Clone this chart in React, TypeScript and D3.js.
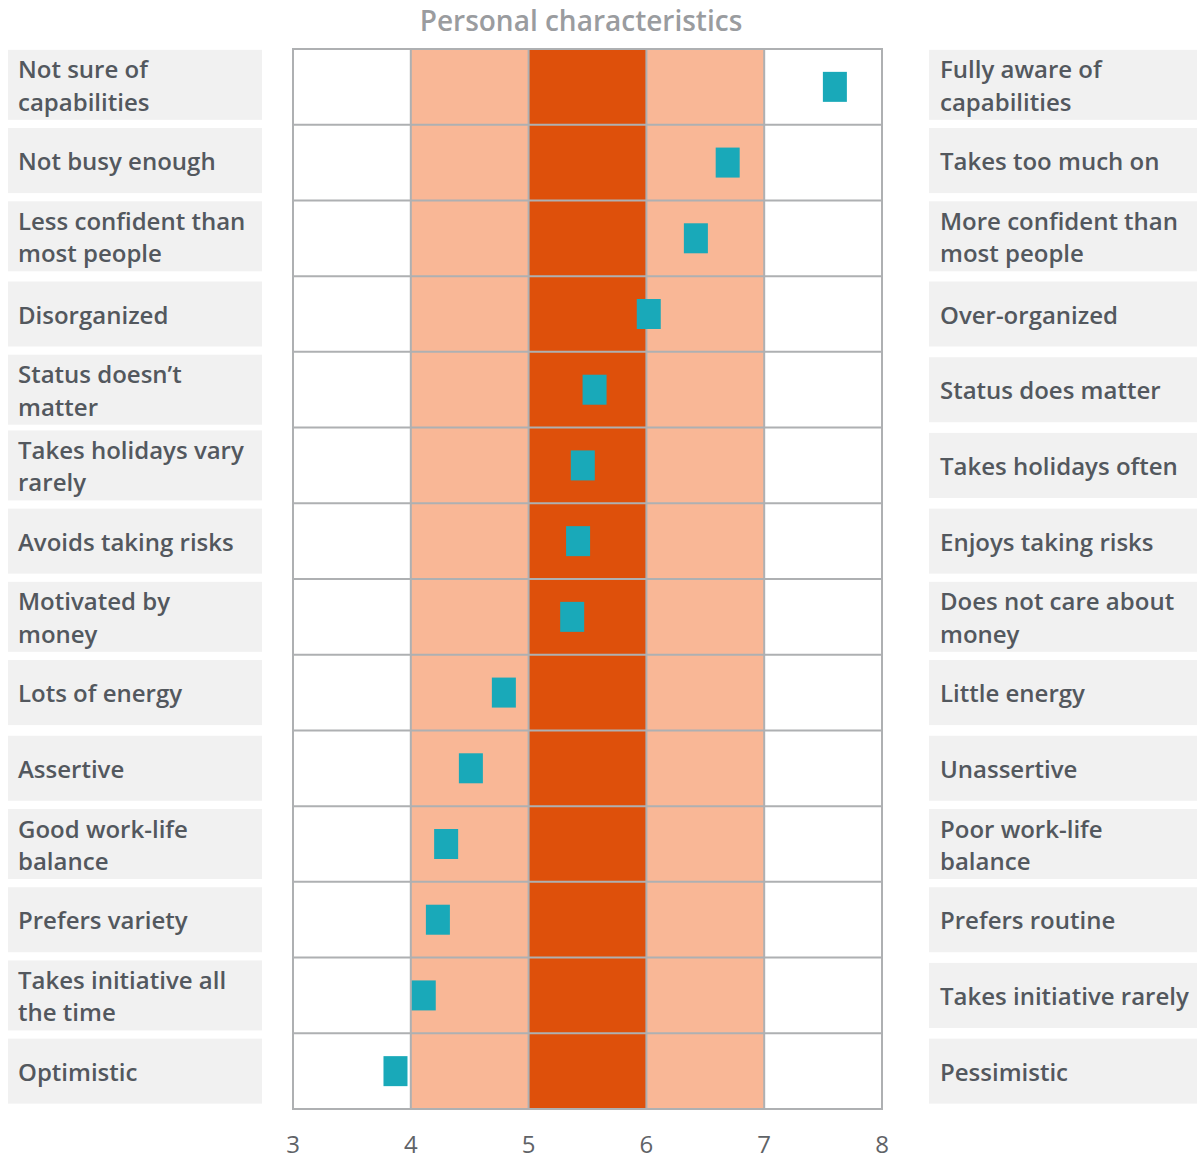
import React from "react";
import * as d3 from "d3";

const leftLabels: string[][] = [
  ["Not sure of", "capabilities"],
  ["Not busy enough"],
  ["Less confident than", "most people"],
  ["Disorganized"],
  ["Status doesn’t", "matter"],
  ["Takes holidays vary", "rarely"],
  ["Avoids taking risks"],
  ["Motivated by", "money"],
  ["Lots of energy"],
  ["Assertive"],
  ["Good work-life", "balance"],
  ["Prefers variety"],
  ["Takes initiative all", "the time"],
  ["Optimistic"],
];

const rightLabels: string[][] = [
  ["Fully aware of", "capabilities"],
  ["Takes too much on"],
  ["More confident than", "most people"],
  ["Over-organized"],
  ["Status does matter"],
  ["Takes holidays often"],
  ["Enjoys taking risks"],
  ["Does not care about", "money"],
  ["Little energy"],
  ["Unassertive"],
  ["Poor work-life", "balance"],
  ["Prefers routine"],
  ["Takes initiative rarely"],
  ["Pessimistic"],
];

const scores: number[] = [7.6, 6.69, 6.42, 6.02, 5.56, 5.46, 5.42, 5.37, 4.79, 4.51, 4.3, 4.23, 4.11, 3.87];

const bands = [
  { from: 4, to: 5, kind: "light" },
  { from: 5, to: 6, kind: "dark" },
  { from: 6, to: 7, kind: "light" },
];

const xTicks: number[] = [3, 4, 5, 6, 7, 8];
const title = "Personal characteristics";

export default function App() {
  const W = 1197;
  const H = 1157;
  const plotLeft = 293;
  const plotRight = 882;
  const plotTop = 49;
  const plotBottom = 1109;

  const x = d3.scaleLinear().domain([3, 8]).range([plotLeft, plotRight]);
  const idx = leftLabels.map((_, i) => String(i));
  const y = d3.scaleBand().domain(idx).range([plotTop, plotBottom]).padding(0);
  const bw = y.bandwidth();

  const font = "'Open Sans', 'Noto Sans', sans-serif";
  const textColor = "#53585e";
  const gridColor = "#aeb0b2";
  const boxFill = "#f1f1f1";
  const fs = 24;
  const lh = 32.5;

  const renderBox = (lines: string[], i: number, bx: number, bwidth: number, tx: number) => {
    const c = (y(String(i)) as number) + bw / 2;
    const two = lines.length > 1;
    const h = two ? 70 : 65;
    let top = c - h / 2 - (i < 3 ? 2 : 0);
    if (top < plotTop) top = plotTop;
    const center = top + h / 2;
    const firstBaseline = two ? center - 6.5 : center + 9.5;
    return (
      <g key={`${bx}-${i}`}>
        <rect x={bx} y={top} width={bwidth} height={h} fill={boxFill} />
        <text x={tx} y={firstBaseline} fontFamily={font} fontSize={fs} fontWeight={600} fill={textColor}>
          {lines.map((l, k) => (
            <tspan key={k} x={tx} y={firstBaseline + k * lh}>
              {l}
            </tspan>
          ))}
        </text>
      </g>
    );
  };

  return (
    <svg
      width={W}
      height={H}
      style={{ position: "absolute", left: 0, top: 0, background: "#fff" }}
    >
      <text
        x={581}
        y={31}
        textAnchor="middle"
        fontFamily={font}
        fontSize={28}
        fontWeight={600}
        fill="#9a9c9f"
      >
        {title}
      </text>

      {bands.map((b, i) => (
        <rect
          key={i}
          x={x(b.from)}
          y={plotTop}
          width={x(b.to) - x(b.from)}
          height={plotBottom - plotTop}
          fill={b.kind === "dark" ? "#de500b" : "#f9b796"}
        />
      ))}

      {idx.map((d, i) =>
        i === 0 ? null : (
          <line
            key={d}
            x1={plotLeft}
            x2={plotRight}
            y1={y(d) as number}
            y2={y(d) as number}
            stroke={gridColor}
            strokeWidth={2}
          />
        )
      )}
      {xTicks.slice(1, -1).map((t) => (
        <line
          key={t}
          x1={x(t)}
          x2={x(t)}
          y1={plotTop}
          y2={plotBottom}
          stroke={gridColor}
          strokeWidth={2}
        />
      ))}
      <rect
        x={plotLeft}
        y={plotTop}
        width={plotRight - plotLeft}
        height={plotBottom - plotTop}
        fill="none"
        stroke={gridColor}
        strokeWidth={2}
      />

      {scores.map((v, i) => {
        const c = (y(String(i)) as number) + bw / 2;
        return (
          <rect
            key={i}
            x={x(v) - 12}
            y={c - 15}
            width={24}
            height={30}
            fill="#19a9b9"
          />
        );
      })}

      {xTicks.map((t) => (
        <text
          key={t}
          x={x(t)}
          y={1153}
          textAnchor="middle"
          fontFamily={font}
          fontSize={fs}
          fill="#5f6367"
        >
          {t}
        </text>
      ))}

      {leftLabels.map((l, i) => renderBox(l, i, 8, 254, 18))}
      {rightLabels.map((l, i) => renderBox(l, i, 929, 268, 940))}
    </svg>
  );
}
